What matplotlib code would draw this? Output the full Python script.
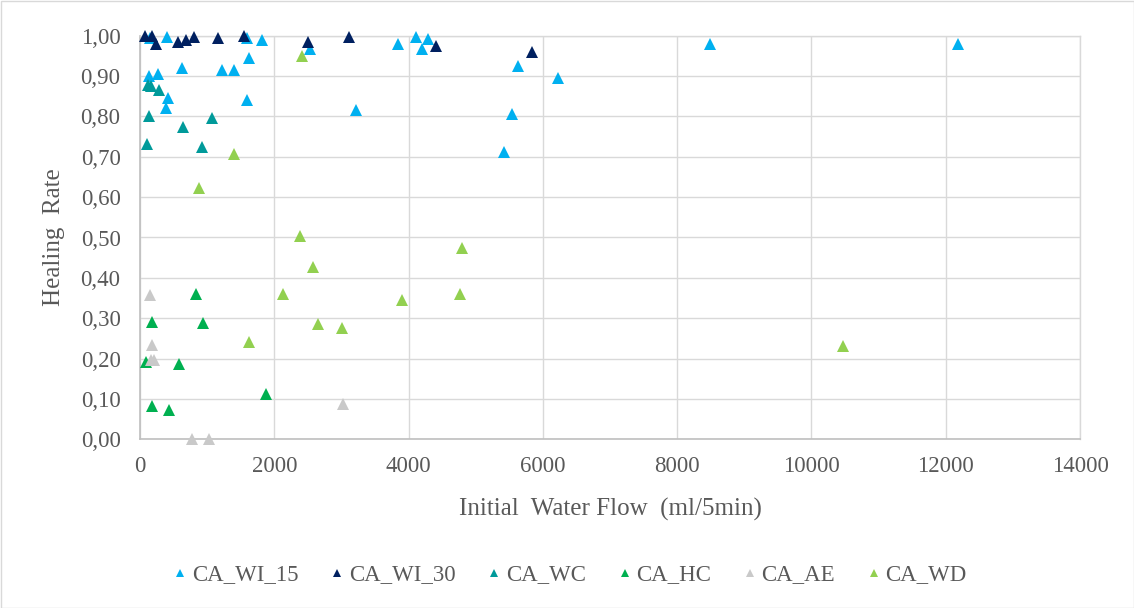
import matplotlib
matplotlib.use("Agg")
import matplotlib.pyplot as plt
from matplotlib.ticker import FuncFormatter, MultipleLocator
from matplotlib.patches import Rectangle

# Healing rate versus initial water flow for each specimen group
wi15_flow = [150, 407, 1598, 1812, 2532, 1628, 621, 1216, 1400, 134, 263, 412, 382,
             1598, 3212, 3838, 4106, 4195, 4284, 5626, 6221, 5536, 5417, 8489, 12188]
wi15_rate = [0.995, 0.998, 0.995, 0.99, 0.967, 0.945, 0.92, 0.916, 0.916, 0.90, 0.905,
             0.846, 0.82, 0.841, 0.816, 0.979, 0.998, 0.968, 0.993, 0.924, 0.894,
             0.805, 0.711, 0.979, 0.979]

wi30_flow = [74, 174, 233, 561, 685, 804, 1157, 1545, 2497, 3118, 4408, 5834]
wi30_rate = [1.0, 1.0, 0.98, 0.985, 0.99, 0.998, 0.995, 0.999, 0.984, 0.998, 0.974, 0.96]

wc_flow = [114, 164, 288, 139, 645, 1067, 109, 919]
wc_rate = [0.879, 0.875, 0.866, 0.80, 0.775, 0.796, 0.732, 0.724]

hc_flow = [829, 174, 943, 85, 586, 1872, 174, 437]
hc_rate = [0.361, 0.291, 0.287, 0.192, 0.187, 0.113, 0.083, 0.073]

ae_flow = [149, 174, 159, 208, 3028, 770, 1032]
ae_rate = [0.357, 0.233, 0.197, 0.197, 0.088, 0.0, 0.0]

wd_flow = [2408, 1395, 884, 2378, 2581, 2134, 3897, 2646, 3003, 1628, 4791, 4766, 10470]
wd_rate = [0.949, 0.706, 0.623, 0.504, 0.427, 0.361, 0.344, 0.285, 0.276, 0.241,
           0.473, 0.359, 0.231]

series = [
    ("CA_WI_15", wi15_flow, wi15_rate, "#00B0F0"),
    ("CA_WI_30", wi30_flow, wi30_rate, "#002060"),
    ("CA_WC", wc_flow, wc_rate, "#009A9A"),
    ("CA_HC", hc_flow, hc_rate, "#00B050"),
    ("CA_AE", ae_flow, ae_rate, "#C9C9C9"),
    ("CA_WD", wd_flow, wd_rate, "#92D050"),
]

text_color = "#595959"
grid_color = "#D9D9D9"
font = "Liberation Serif"

fig = plt.figure(figsize=(11.34, 6.08), dpi=100)
ax = fig.add_axes([140 / 1134, 1 - 439.3 / 608, 940 / 1134, 403.6 / 608])

for name, xs, ys, col in series:
    ax.plot(xs, ys, linestyle="none", marker="^", markersize=8.2,
            color=col, markeredgewidth=0, label=name, clip_on=False, zorder=3)

ax.set_xlim(0, 14000)
ax.set_ylim(0, 1.0)
ax.xaxis.set_major_locator(MultipleLocator(2000))
ax.yaxis.set_major_locator(MultipleLocator(0.1))
ax.yaxis.set_major_formatter(FuncFormatter(lambda v, p: f"{v:.2f}".replace(".", ",")))
ax.xaxis.set_major_formatter(FuncFormatter(lambda v, p: f"{int(round(v))}"))

ax.grid(True, color=grid_color, linewidth=1.0, zorder=0)
ax.set_axisbelow(True)
for side in ("top", "right"):
    ax.spines[side].set_color(grid_color)
    ax.spines[side].set_linewidth(1.0)
for side in ("left", "bottom"):
    ax.spines[side].set_color("#BFBFBF")
    ax.spines[side].set_linewidth(1.2)

ax.tick_params(axis="both", length=0, labelcolor=text_color, labelsize=16.5)
ax.tick_params(axis="y", pad=14)
ax.tick_params(axis="x", pad=12)
for lab in ax.get_xticklabels() + ax.get_yticklabels():
    lab.set_fontfamily(font)

ax.set_xlabel("Initial  Water Flow  (ml/5min)", fontsize=18, color=text_color,
              fontfamily=font, labelpad=15)
ax.set_ylabel("Healing  Rate", fontsize=18, color=text_color,
              fontfamily=font, labelpad=11)

leg = fig.legend(loc="center", bbox_to_anchor=(569 / 1134, 1 - 575 / 608), ncol=6,
                 frameon=False, handletextpad=0.1, columnspacing=1.3,
                 markerscale=0.75, handlelength=0.8,
                 prop={"family": font, "size": 16.5})
for t in leg.get_texts():
    t.set_color(text_color)

fig.patches.append(Rectangle((0.5 / 1134, 0.5 / 608), 1 - 1 / 1134, 1 - 1 / 608,
                             transform=fig.transFigure, fill=False,
                             edgecolor=grid_color, linewidth=1.0))

fig.savefig("out.png", dpi=100)
